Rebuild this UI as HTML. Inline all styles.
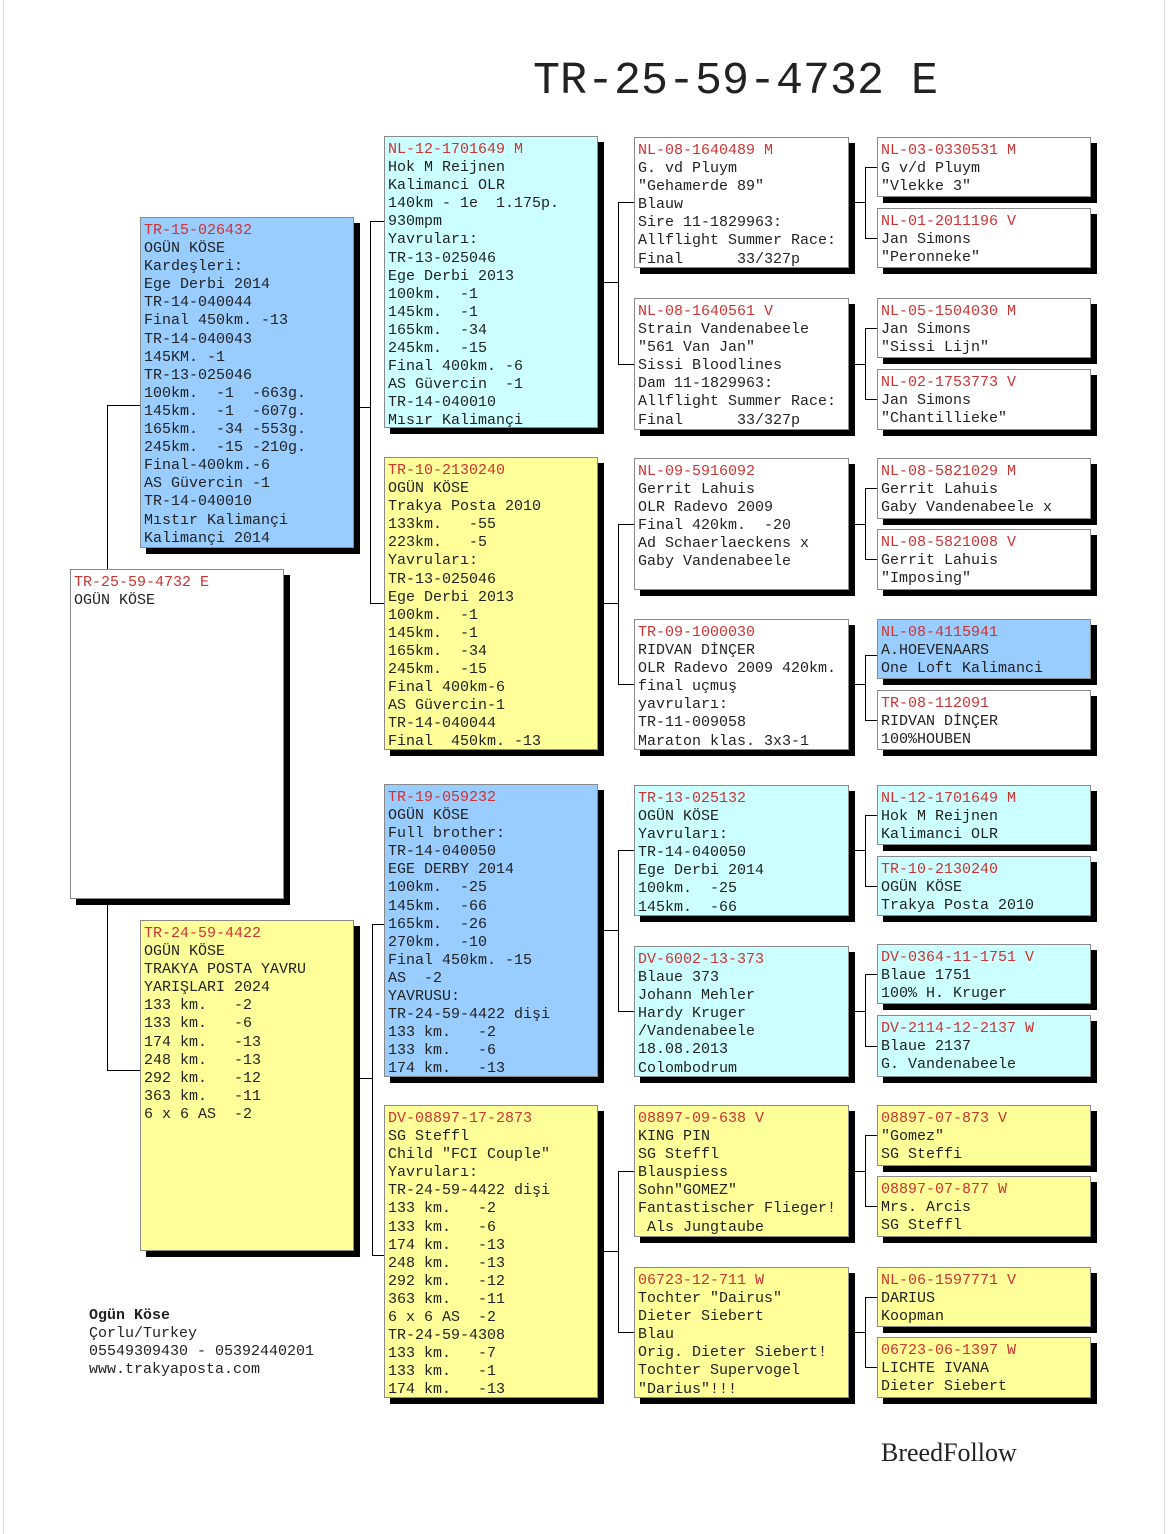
<!DOCTYPE html>
<html><head><meta charset="utf-8"><style>
body{margin:0;width:1170px;height:1534px;background:#fff;position:relative;overflow:hidden;font-family:"Liberation Mono","DejaVu Sans Mono",monospace;}
.b{position:absolute;box-sizing:border-box;border:1px solid #8a8a8a;box-shadow:6px 6px 0 #000;font-size:15px;line-height:18.1px;padding:4px 0 0 3px;white-space:pre;color:#222;overflow:hidden}
.r{color:#cc3333}
.w{background:#fff}.c{background:#ccffff}.y{background:#ffff99}.u{background:#99ccff}
.l{position:absolute;background:#000}
</style></head><body>
<div style="position:absolute;left:3px;top:0;width:1px;height:1534px;background:#ddd"></div>
<div style="position:absolute;left:1164px;top:0;width:1px;height:1534px;background:#ddd"></div>
<div style="position:absolute;left:533px;top:57px;font-size:45px;line-height:50px;color:#222;white-space:pre">TR-25-59-4732 E</div>

<!-- connectors -->
<div class="l" style="left:107px;top:405px;width:1px;height:666px"></div>
<div class="l" style="left:107px;top:405px;width:33px;height:1px"></div>
<div class="l" style="left:107px;top:1070px;width:33px;height:1px"></div>

<div class="l" style="left:354px;top:407px;width:16px;height:1px"></div>
<div class="l" style="left:370px;top:221px;width:1px;height:383px"></div>
<div class="l" style="left:370px;top:221px;width:14px;height:1px"></div>
<div class="l" style="left:370px;top:603px;width:14px;height:1px"></div>

<div class="l" style="left:354px;top:1078px;width:18px;height:1px"></div>
<div class="l" style="left:372px;top:924px;width:1px;height:332px"></div>
<div class="l" style="left:372px;top:924px;width:12px;height:1px"></div>
<div class="l" style="left:372px;top:1255px;width:12px;height:1px"></div>

<div class="l" style="left:604px;top:282px;width:14px;height:1px"></div>
<div class="l" style="left:618px;top:202px;width:1px;height:163px"></div>
<div class="l" style="left:618px;top:202px;width:16px;height:1px"></div>
<div class="l" style="left:618px;top:364px;width:16px;height:1px"></div>

<div class="l" style="left:604px;top:603px;width:14px;height:1px"></div>
<div class="l" style="left:618px;top:524px;width:1px;height:161px"></div>
<div class="l" style="left:618px;top:524px;width:16px;height:1px"></div>
<div class="l" style="left:618px;top:684px;width:16px;height:1px"></div>

<div class="l" style="left:604px;top:930px;width:14px;height:1px"></div>
<div class="l" style="left:618px;top:850px;width:1px;height:162px"></div>
<div class="l" style="left:618px;top:850px;width:16px;height:1px"></div>
<div class="l" style="left:618px;top:1011px;width:16px;height:1px"></div>

<div class="l" style="left:604px;top:1251px;width:14px;height:1px"></div>
<div class="l" style="left:618px;top:1171px;width:1px;height:162px"></div>
<div class="l" style="left:618px;top:1171px;width:16px;height:1px"></div>
<div class="l" style="left:618px;top:1332px;width:16px;height:1px"></div>

<!-- col3 -> col4 -->
<div class="l" style="left:855px;top:202px;width:10px;height:1px"></div>
<div class="l" style="left:865px;top:167px;width:1px;height:72px"></div>
<div class="l" style="left:865px;top:167px;width:12px;height:1px"></div>
<div class="l" style="left:865px;top:238px;width:12px;height:1px"></div>

<div class="l" style="left:855px;top:364px;width:10px;height:1px"></div>
<div class="l" style="left:865px;top:328px;width:1px;height:72px"></div>
<div class="l" style="left:865px;top:328px;width:12px;height:1px"></div>
<div class="l" style="left:865px;top:399px;width:12px;height:1px"></div>

<div class="l" style="left:855px;top:524px;width:10px;height:1px"></div>
<div class="l" style="left:865px;top:488px;width:1px;height:72px"></div>
<div class="l" style="left:865px;top:488px;width:12px;height:1px"></div>
<div class="l" style="left:865px;top:559px;width:12px;height:1px"></div>

<div class="l" style="left:855px;top:684px;width:10px;height:1px"></div>
<div class="l" style="left:865px;top:655px;width:1px;height:66px"></div>
<div class="l" style="left:865px;top:655px;width:12px;height:1px"></div>
<div class="l" style="left:865px;top:720px;width:12px;height:1px"></div>

<div class="l" style="left:855px;top:850px;width:10px;height:1px"></div>
<div class="l" style="left:865px;top:815px;width:1px;height:72px"></div>
<div class="l" style="left:865px;top:815px;width:12px;height:1px"></div>
<div class="l" style="left:865px;top:886px;width:12px;height:1px"></div>

<div class="l" style="left:855px;top:1011px;width:10px;height:1px"></div>
<div class="l" style="left:865px;top:974px;width:1px;height:73px"></div>
<div class="l" style="left:865px;top:974px;width:12px;height:1px"></div>
<div class="l" style="left:865px;top:1046px;width:12px;height:1px"></div>

<div class="l" style="left:855px;top:1171px;width:10px;height:1px"></div>
<div class="l" style="left:865px;top:1135px;width:1px;height:72px"></div>
<div class="l" style="left:865px;top:1135px;width:12px;height:1px"></div>
<div class="l" style="left:865px;top:1206px;width:12px;height:1px"></div>

<div class="l" style="left:855px;top:1332px;width:10px;height:1px"></div>
<div class="l" style="left:865px;top:1297px;width:1px;height:71px"></div>
<div class="l" style="left:865px;top:1297px;width:12px;height:1px"></div>
<div class="l" style="left:865px;top:1367px;width:12px;height:1px"></div>

<!-- col1 -->
<div class="b u" style="left:140px;top:217px;width:214px;height:331px"><span class="r">TR-15-026432</span>
OGÜN KÖSE
Kardeşleri:
Ege Derbi 2014
TR-14-040044
Final 450km. -13
TR-14-040043
145KM. -1
TR-13-025046
100km.  -1  -663g.
145km.  -1  -607g.
165km.  -34 -553g.
245km.  -15 -210g.
Final-400km.-6
AS Güvercin -1
TR-14-040010
Mıstır Kalimançi
Kalimançi 2014</div>
<div class="b w" style="left:70px;top:569px;width:214px;height:330px"><span class="r">TR-25-59-4732 E</span>
OGÜN KÖSE</div>
<div class="b y" style="left:140px;top:920px;width:214px;height:331px"><span class="r">TR-24-59-4422</span>
OGÜN KÖSE
TRAKYA POSTA YAVRU
YARIŞLARI 2024
133 km.   -2
133 km.   -6
174 km.   -13
248 km.   -13
292 km.   -12
363 km.   -11
6 x 6 AS  -2</div>

<!-- col2 -->
<div class="b c" style="left:384px;top:136px;width:214px;height:292px"><span class="r">NL-12-1701649 M</span>
Hok M Reijnen
Kalimanci OLR
140km - 1e  1.175p.
930mpm
Yavruları:
TR-13-025046
Ege Derbi 2013
100km.  -1
145km.  -1
165km.  -34
245km.  -15
Final 400km. -6
AS Güvercin  -1
TR-14-040010
Mısır Kalimançi</div>
<div class="b y" style="left:384px;top:457px;width:214px;height:293px"><span class="r">TR-10-2130240</span>
OGÜN KÖSE
Trakya Posta 2010
133km.   -55
223km.   -5
Yavruları:
TR-13-025046
Ege Derbi 2013
100km.  -1
145km.  -1
165km.  -34
245km.  -15
Final 400km-6
AS Güvercin-1
TR-14-040044
Final  450km. -13</div>
<div class="b u" style="left:384px;top:784px;width:214px;height:293px"><span class="r">TR-19-059232</span>
OGÜN KÖSE
Full brother:
TR-14-040050
EGE DERBY 2014
100km.  -25
145km.  -66
165km.  -26
270km.  -10
Final 450km. -15
AS  -2
YAVRUSU:
TR-24-59-4422 dişi
133 km.   -2
133 km.   -6
174 km.   -13</div>
<div class="b y" style="left:384px;top:1105px;width:214px;height:293px"><span class="r">DV-08897-17-2873</span>
SG Steffl
Child "FCI Couple"
Yavruları:
TR-24-59-4422 dişi
133 km.   -2
133 km.   -6
174 km.   -13
248 km.   -13
292 km.   -12
363 km.   -11
6 x 6 AS  -2
TR-24-59-4308
133 km.   -7
133 km.   -1
174 km.   -13</div>

<!-- col3 -->
<div class="b w" style="left:634px;top:137px;width:215px;height:131px"><span class="r">NL-08-1640489 M</span>
G. vd Pluym
"Gehamerde 89"
Blauw
Sire 11-1829963:
Allflight Summer Race:
Final      33/327p</div>
<div class="b w" style="left:634px;top:298px;width:215px;height:132px"><span class="r">NL-08-1640561 V</span>
Strain Vandenabeele
"561 Van Jan"
Sissi Bloodlines
Dam 11-1829963:
Allflight Summer Race:
Final      33/327p</div>
<div class="b w" style="left:634px;top:458px;width:215px;height:132px"><span class="r">NL-09-5916092</span>
Gerrit Lahuis
OLR Radevo 2009
Final 420km.  -20
Ad Schaerlaeckens x
Gaby Vandenabeele</div>
<div class="b w" style="left:634px;top:619px;width:215px;height:131px"><span class="r">TR-09-1000030</span>
RIDVAN DİNÇER
OLR Radevo 2009 420km.
final uçmuş
yavruları:
TR-11-009058
Maraton klas. 3x3-1</div>
<div class="b c" style="left:634px;top:785px;width:215px;height:131px"><span class="r">TR-13-025132</span>
OGÜN KÖSE
Yavruları:
TR-14-040050
Ege Derbi 2014
100km.  -25
145km.  -66</div>
<div class="b c" style="left:634px;top:946px;width:215px;height:131px"><span class="r">DV-6002-13-373</span>
Blaue 373
Johann Mehler
Hardy Kruger
/Vandenabeele
18.08.2013
Colombodrum</div>
<div class="b y" style="left:634px;top:1105px;width:215px;height:132px"><span class="r">08897-09-638 V</span>
KING PIN
SG Steffl
Blauspiess
Sohn"GOMEZ"
Fantastischer Flieger!
 Als Jungtaube</div>
<div class="b y" style="left:634px;top:1267px;width:215px;height:131px"><span class="r">06723-12-711 W</span>
Tochter "Dairus"
Dieter Siebert
Blau
Orig. Dieter Siebert!
Tochter Supervogel
"Darius"!!!</div>

<!-- col4 -->
<div class="b w" style="left:877px;top:137px;width:214px;height:60px"><span class="r">NL-03-0330531 M</span>
G v/d Pluym
"Vlekke 3"</div>
<div class="b w" style="left:877px;top:208px;width:214px;height:60px"><span class="r">NL-01-2011196 V</span>
Jan Simons
"Peronneke"</div>
<div class="b w" style="left:877px;top:298px;width:214px;height:60px"><span class="r">NL-05-1504030 M</span>
Jan Simons
"Sissi Lijn"</div>
<div class="b w" style="left:877px;top:369px;width:214px;height:61px"><span class="r">NL-02-1753773 V</span>
Jan Simons
"Chantillieke"</div>
<div class="b w" style="left:877px;top:458px;width:214px;height:61px"><span class="r">NL-08-5821029 M</span>
Gerrit Lahuis
Gaby Vandenabeele x</div>
<div class="b w" style="left:877px;top:529px;width:214px;height:61px"><span class="r">NL-08-5821008 V</span>
Gerrit Lahuis
"Imposing"</div>
<div class="b u" style="left:877px;top:619px;width:214px;height:60px"><span class="r">NL-08-4115941</span>
A.HOEVENAARS
One Loft Kalimanci</div>
<div class="b w" style="left:877px;top:690px;width:214px;height:60px"><span class="r">TR-08-112091</span>
RIDVAN DİNÇER
100%HOUBEN</div>
<div class="b c" style="left:877px;top:785px;width:214px;height:60px"><span class="r">NL-12-1701649 M</span>
Hok M Reijnen
Kalimanci OLR</div>
<div class="b c" style="left:877px;top:856px;width:214px;height:60px"><span class="r">TR-10-2130240</span>
OGÜN KÖSE
Trakya Posta 2010</div>
<div class="b c" style="left:877px;top:944px;width:214px;height:60px"><span class="r">DV-0364-11-1751 V</span>
Blaue 1751
100% H. Kruger</div>
<div class="b c" style="left:877px;top:1015px;width:214px;height:62px"><span class="r">DV-2114-12-2137 W</span>
Blaue 2137
G. Vandenabeele</div>
<div class="b y" style="left:877px;top:1105px;width:214px;height:61px"><span class="r">08897-07-873 V</span>
"Gomez"
SG Steffi</div>
<div class="b y" style="left:877px;top:1176px;width:214px;height:61px"><span class="r">08897-07-877 W</span>
Mrs. Arcis
SG Steffl</div>
<div class="b y" style="left:877px;top:1267px;width:214px;height:60px"><span class="r">NL-06-1597771 V</span>
DARIUS
Koopman</div>
<div class="b y" style="left:877px;top:1337px;width:214px;height:61px"><span class="r">06723-06-1397 W</span>
LICHTE IVANA
Dieter Siebert</div>

<div style="position:absolute;left:89px;top:1307px;font-size:15px;line-height:18.1px;white-space:pre;color:#222"><b>Ogün Köse</b>
Çorlu/Turkey
05549309430 - 05392440201
www.trakyaposta.com</div>
<div style="position:absolute;left:881px;top:1438px;font-family:'Liberation Serif',serif;font-size:26px;color:#222">BreedFollow</div>
</body></html>
